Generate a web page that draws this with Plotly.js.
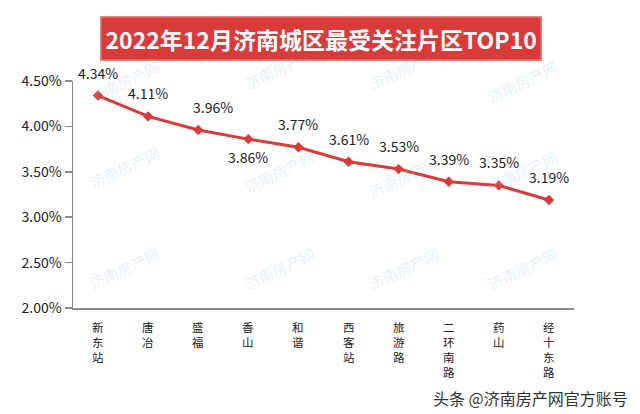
<!DOCTYPE html>
<html>
<head>
<meta charset="utf-8">
<script src="https://cdn.plot.ly/plotly-3.0.1.min.js"></script>
<style>html,body{margin:0;padding:0;background:#fff;}#chart{width:640px;height:414px;}</style>
</head>
<body>
<div id="chart"></div>
<script>
// ---- data ----
var categories = ['新东站','唐冶','盛福','香山','和谐','西客站','旅游路','二环南路','药山','经十东路'];
var values = [4.34, 4.11, 3.96, 3.86, 3.77, 3.61, 3.53, 3.39, 3.35, 3.19];
var valueLabels = ['4.34%','4.11%','3.96%','3.86%','3.77%','3.61%','3.53%','3.39%','3.35%','3.19%'];
var yTickVals = [2.0, 2.5, 3.0, 3.5, 4.0, 4.5];
var yTickText = ['2.00%','2.50%','3.00%','3.50%','4.00%','4.50%'];
var titleText = '2022年12月济南城区最受关注片区TOP10';
var footerText = '头条 @济南房产网官方账号';
var watermarkText = '济南房产网';

// ---- styling ----
var FONT = '"Noto Sans CJK SC", "Noto Sans", sans-serif';
var RED = '#d93b3b';
var belowIdx = {3: true};      // label drawn under the point
var xShiftIdx = {2: 15};       // label nudged right

var annotations = [];

// faint watermarks (drawn first, underneath other texts)
var wm = [[0.02,1.12],[0.33,1.18],[0.66,1.18],[0.98,1.12],[0.02,0.62],[0.33,0.6],[0.66,0.58],[0.98,0.6],[0.02,0.05],[0.33,0.05],[0.66,0.05],[0.98,0.05]];
wm.forEach(function (p) {
  annotations.push({
    x: p[0], y: p[1], xref: 'paper', yref: 'paper', showarrow: false,
    text: watermarkText, textangle: -25,
    font: {family: FONT, size: 15, color: 'rgba(160,205,230,0.28)'}
  });
});

// value labels
values.forEach(function (v, i) {
  annotations.push({
    x: categories[i], y: v, xref: 'x', yref: 'y',
    text: valueLabels[i], showarrow: false,
    font: {family: FONT, size: 14, color: '#222'},
    yshift: belowIdx[i] ? -18 : 23,
    xshift: xShiftIdx[i] || 0
  });
});

// vertical (stacked) category labels
categories.forEach(function (c) {
  annotations.push({
    x: c, y: 0, xref: 'x', yref: 'paper',
    text: Array.from(c).join('<br>'), showarrow: false,
    font: {family: FONT, size: 11.5, color: '#222'},
    yanchor: 'top', yshift: -9
  });
});

// title box
annotations.push({
  x: 0.5, y: 1, xref: 'paper', yref: 'paper', xanchor: 'center', yanchor: 'middle',
  xshift: -3, yshift: 43,
  text: '<b>' + titleText + '</b>', showarrow: false,
  font: {family: FONT, size: 23, color: '#ffffff'},
  bgcolor: RED, bordercolor: '#e98585', borderwidth: 1.5, borderpad: 4
});

// footer
annotations.push({
  x: 1, y: 0, xref: 'paper', yref: 'paper', xanchor: 'right', yanchor: 'middle',
  xshift: 56, yshift: -90,
  text: footerText, showarrow: false,
  font: {family: FONT, size: 16, color: '#333'}
});

var trace = {
  x: categories, y: values, type: 'scatter', mode: 'lines+markers',
  line: {color: RED, width: 3},
  marker: {symbol: 'diamond', size: 8, color: RED},
  hoverinfo: 'none', cliponaxis: false
};

var layout = {
  width: 640, height: 414,
  margin: {l: 73, r: 66, t: 81, b: 106},
  paper_bgcolor: '#ffffff', plot_bgcolor: '#ffffff',
  showlegend: false,
  font: {family: FONT, color: '#222'},
  xaxis: {
    type: 'category', range: [-0.5, 9.5], showticklabels: false,
    showline: true, linecolor: '#8a8a8a', linewidth: 1.5,
    ticks: '', showgrid: false, zeroline: false, fixedrange: true
  },
  yaxis: {
    range: [2.0, 4.5], tickvals: yTickVals, ticktext: yTickText,
    showline: true, linecolor: '#8a8a8a', linewidth: 1.5,
    ticks: 'outside', ticklen: 7, tickcolor: '#8a8a8a', tickwidth: 1.5,
    tickfont: {family: FONT, size: 14, color: '#222'},
    showgrid: false, zeroline: false, fixedrange: true
  },
  annotations: annotations
};

Plotly.newPlot('chart', [trace], layout, {displayModeBar: false, staticPlot: true});
</script>
</body>
</html>
